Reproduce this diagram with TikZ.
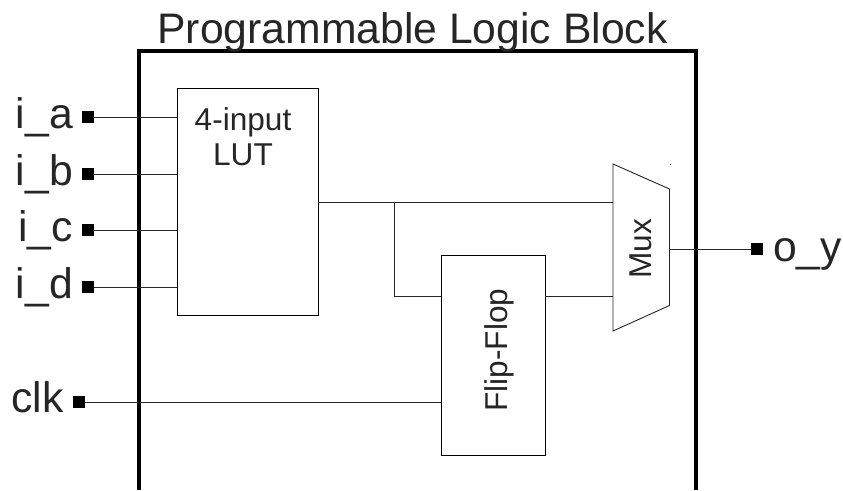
\documentclass[tikz,border=0pt]{standalone}
\usepackage{fontspec}
\setmainfont{Liberation Sans}
\tikzset{
  x=1pt,y=-1pt,
  blockbox/.style={draw=black,line width=0.9pt,inner sep=0pt,anchor=north west,text=black!85},
  wire/.style={draw=black!85,line width=0.9pt},
  port/.style={fill=black,draw=none,minimum size=12pt,inner sep=0pt},
  biglabel/.style={font=\fontsize{42.7}{43}\selectfont,text=black!85,inner sep=0pt},
  midlabel/.style={font=\fontsize{31.6}{35}\selectfont,text=black!85,inner sep=0pt},
}
\begin{document}
\begin{tikzpicture}
\useasboundingbox[fill=white] (0,0) rectangle (843,490);
% outer block, open at the bottom
\draw[line width=3.4pt,line cap=butt] (139,490) -- (139,51) -- (696,51) -- (696,490);
\node[biglabel,anchor=base] (title) at (412.5,43) {Programmable Logic Block};
% ports
\node[port] (pa) at (88,117) {};
\node[port] (pb) at (88,174) {};
\node[port] (pc) at (88,230) {};
\node[port] (pd) at (88,287) {};
\node[port] (pclk) at (79,402) {};
\node[port] (py) at (757,249) {};
\node[biglabel,anchor=base east] (la) at (73,128) {i\_a};
\node[biglabel,anchor=base east] (lb) at (73,185) {i\_b};
\node[biglabel,anchor=base east] (lc) at (73,241) {i\_c};
\node[biglabel,anchor=base east] (ld) at (73,298) {i\_d};
\node[biglabel,anchor=base east] (lclk) at (64,412) {clk};
\node[biglabel,anchor=base west] (ly) at (773,261) {o\_y};
% LUT
\node[blockbox,minimum width=141pt,minimum height=227pt] (lut) at (176.5,88) {};
\node[midlabel,align=center,anchor=north] (luttext) at (243,107) {4-input\\LUT};
% Flip-flop
\node[blockbox,minimum width=104pt,minimum height=200pt] (ff) at (441.3,255) {};
\node[midlabel,rotate=90] (fftext) at (499,350) {Flip-Flop};
% Mux
\coordinate (m1) at (613,164);
\coordinate (m2) at (669.5,189);
\coordinate (m3) at (669.5,305.5);
\coordinate (m4) at (613,331);
\draw[wire,line join=miter] (m1) -- (m2) -- (m3) -- (m4) -- cycle;
\node[midlabel,rotate=90] (muxtext) at (641,249) {Mux};
\coordinate (mi1) at (613,202);
\coordinate (mi2) at (613,296);
\coordinate (mo) at (669.5,249);
% wires
\draw[wire] (pa) -- (pa -| lut.west);
\draw[wire] (pb) -- (pb -| lut.west);
\draw[wire] (pc) -- (pc -| lut.west);
\draw[wire] (pd) -- (pd -| lut.west);
\draw[wire] (pclk) -- (pclk -| ff.west);
\draw[wire] (mo) -- (py);
\coordinate (lo) at (318,202);
\coordinate (br) at (394.5,202);
\coordinate (fi) at (441.3,296);
\coordinate (fo) at (545.3,296);
\draw[wire] (lo) -- (mi1);
\draw[wire] (br) |- (fi);
\draw[wire] (fo) -- (mi2);
\fill[black!50] (669.6,163.6) rectangle (670.4,164.4);
\end{tikzpicture}
\end{document}
